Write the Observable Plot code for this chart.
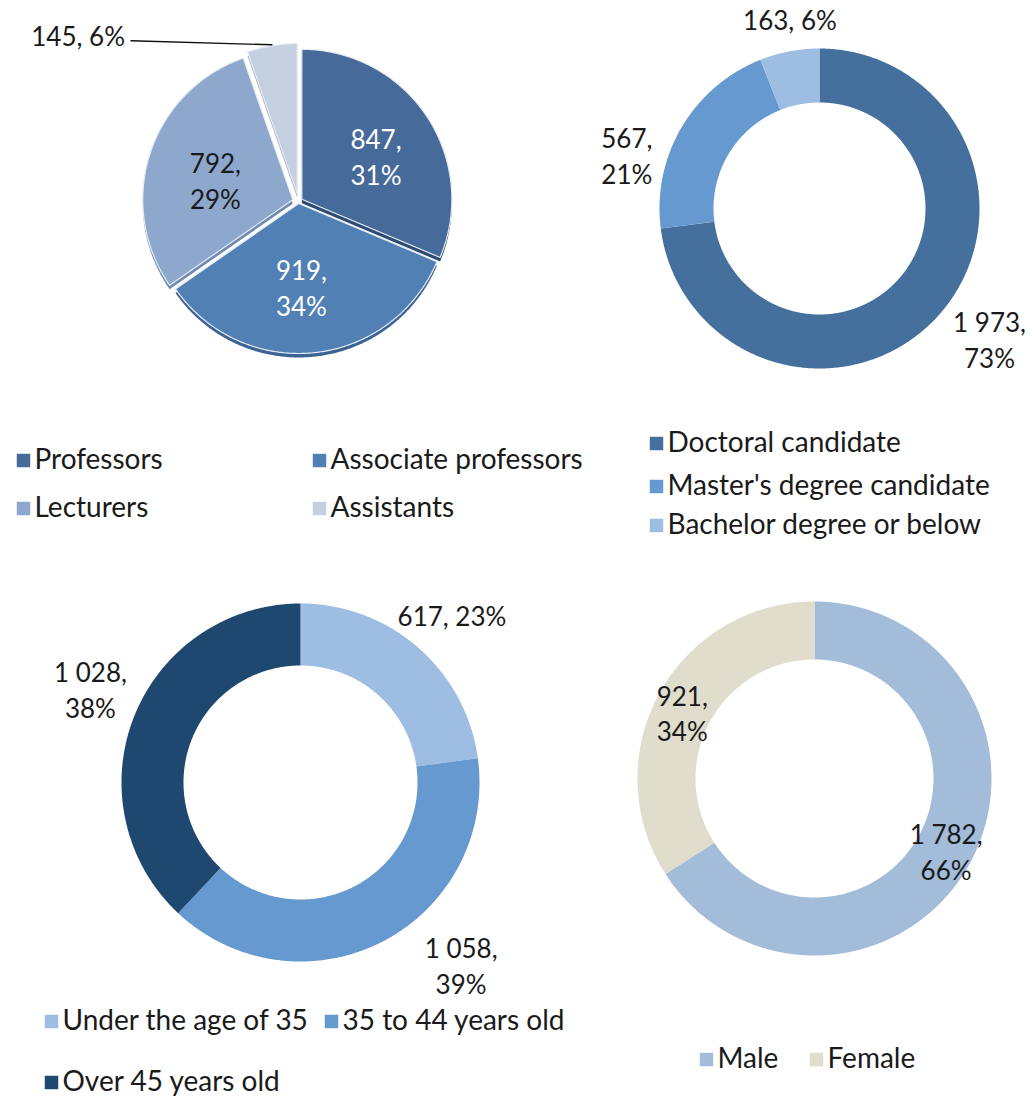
<!DOCTYPE html>
<html>
<head>
<meta charset="utf-8">
<script src="https://cdn.jsdelivr.net/npm/d3@7"></script>
<script src="https://cdn.jsdelivr.net/npm/@observablehq/plot@0.6"></script>
<style>
  html, body { margin: 0; padding: 0; background: #fff; }
  #chart { width: 1030px; height: 1098px; }
  #chart svg { font-family: Lato, "Open Sans", sans-serif; }
</style>
</head>
<body>
<div id="chart"></div>
<script>
// ---- Data ----
// Chart 1: staff by title
const staffCategories = ["Professors", "Associate professors", "Lecturers", "Assistants"];
const staffValues = [847, 919, 792, 145];
const staffPercents = [31, 34, 29, 6];
const staffColors = ["#466a99", "#5180b5", "#8da7cd", "#c4cfe0"];

// Chart 2: staff by degree
const degreeCategories = ["Doctoral candidate", "Master's degree candidate", "Bachelor degree or below"];
const degreeValues = [1973, 567, 163];
const degreePercents = [73, 21, 6];
const degreeColors = ["#45709e", "#6699cf", "#9dbde2"];

// Chart 3: staff by age
const ageCategories = ["Under the age of 35", "35 to 44 years old", "Over 45 years old"];
const ageValues = [617, 1058, 1028];
const agePercents = [23, 39, 38];
const ageColors = ["#9dbde2", "#6699cf", "#1f4870"];

// Chart 4: staff by gender
const genderCategories = ["Male", "Female"];
const genderValues = [1782, 921];
const genderPercents = [66, 34];
const genderColors = ["#a2bcd9", "#e0ddcc"];

// ---- Layout (positions and styles, not data) ----
const W = 1030, H = 1098;
const fmt = d3.formatLocale({decimal: ".", thousands: " ", grouping: [3], currency: ["", ""]}).format(",d");
const DEG = Math.PI / 180;

const charts = [
  {name: "staff", cats: staffCategories, vals: staffValues, pcts: staffPercents,
   cx: 298, cy: 201, r0: 0, r1: 150,
   explode: [4, 2, 6, 8],
   labelR: [90, 85, 86, null], labelDA: [3, 4, -3, 0],
   labelFill: ["white", "white", "#1a1a1a", "#1a1a1a"], twoLine: [true, true, true, false]},
  {name: "degree", cats: degreeCategories, vals: degreeValues, pcts: degreePercents,
   cx: 819, cy: 208, r0: 106, r1: 160,
   labelR: [214, 200, 192], labelDA: [-4, -15, 2],
   labelFill: ["#1a1a1a", "#1a1a1a", "#1a1a1a"], twoLine: [true, true, false]},
  {name: "age", cats: ageCategories, vals: ageValues, pcts: agePercents,
   cx: 300, cy: 782, r0: 117, r1: 179,
   labelR: [226, 243, 230], labelDA: [1, -14, 2.5],
   labelFill: ["#1a1a1a", "#1a1a1a", "#1a1a1a"], twoLine: [false, true, true]},
  {name: "gender", cats: genderCategories, vals: genderValues, pcts: genderPercents,
   cx: 814, cy: 778, r0: 119, r1: 177,
   labelR: [150, 148], labelDA: [0, -2],
   labelFill: ["#1a1a1a", "#1a1a1a"], twoLine: true}
];

function arcPoints(cx, cy, r0, r1, a0, a1) {
  const pts = [];
  const n = Math.max(2, Math.ceil((a1 - a0) / (0.5 * DEG)));
  for (let i = 0; i <= n; i++) {
    const a = a0 + (a1 - a0) * i / n;
    pts.push([cx + r1 * Math.sin(a), cy - r1 * Math.cos(a)]);
  }
  if (r0 > 0) {
    for (let i = n; i >= 0; i--) {
      const a = a0 + (a1 - a0) * i / n;
      pts.push([cx + r0 * Math.sin(a), cy - r0 * Math.cos(a)]);
    }
  } else {
    pts.push([cx, cy]);
  }
  return pts;
}

const slicePts = [];
const shadowPts = [];
const labels = [];
let leader = [];
for (const c of charts) {
  const arcs = d3.pie().sort(null).startAngle(0).endAngle(2 * Math.PI)(c.vals);
  arcs.forEach((a, i) => {
    const mid = (a.startAngle + a.endAngle) / 2;
    const ex = c.explode ? c.explode[i] : 0;
    const cx = c.cx + ex * Math.sin(mid), cy = c.cy - ex * Math.cos(mid);
    const key = c.name + i;
    arcPoints(cx, cy, c.r0, c.r1, a.startAngle, a.endAngle)
      .forEach(([x, y]) => slicePts.push({key, category: c.cats[i], x, y}));
    if (c.explode) {
      arcPoints(cx, cy + 4, c.r0, c.r1, a.startAngle, a.endAngle)
        .forEach(([x, y]) => shadowPts.push({key, x, y}));
    }
    const two = Array.isArray(c.twoLine) ? c.twoLine[i] : c.twoLine;
    const text = fmt(c.vals[i]) + "," + (two ? "\n" : " ") + c.pcts[i] + "%";
    if (c.labelR[i] == null) {
      // leader-line label (small slice of chart 1)
      const ox = cx + c.r1 * Math.sin(mid), oy = cy - c.r1 * Math.cos(mid);
      leader = [{x: ox, y: oy - 1}, {x: ox - 141, y: oy - 5}];
      labels.push({x: ox - 147, y: oy - 8, text, fill: c.labelFill[i], anchor: "end"});
    } else {
      const la = mid + c.labelDA[i] * DEG;
      labels.push({x: c.cx + c.labelR[i] * Math.sin(la), y: c.cy - c.labelR[i] * Math.cos(la),
                   text, fill: c.labelFill[i], anchor: "middle"});
    }
  });
}

// legends
const legendItems = [];
function legend(cats, positions) {
  cats.forEach((cat, i) => legendItems.push({category: cat, x: positions[i][0], y: positions[i][1]}));
}
legend(staffCategories, [[23, 460], [319, 460], [23, 508], [319, 508]]);
legend(degreeCategories, [[656, 443], [656, 486], [656, 525]]);
legend(ageCategories, [[51, 1021], [331, 1021], [51, 1082]]);
legend(genderCategories, [[706, 1059], [816, 1059]]);

const allCats = [...staffCategories, ...degreeCategories, ...ageCategories, ...genderCategories];
const allColors = [...staffColors, ...degreeColors, ...ageColors, ...genderColors];
const shadowColors = ["#2c4b74", "#3b6394", "#6f8bb2", "#9eadc3"];

const plot = Plot.plot({
  width: W, height: H, margin: 0,
  x: {domain: [0, W], range: [0, W], axis: null},
  y: {domain: [0, H], range: [0, H], axis: null},
  color: {domain: allCats, range: allColors},
  style: {fontFamily: "Lato, 'Open Sans', sans-serif", background: "white"},
  marks: [
    Plot.line(shadowPts, {x: "x", y: "y", z: "key", fill: d => shadowColors[+d.key.slice(-1)], stroke: "none", curve: "linear-closed"}),
    Plot.line(slicePts, {x: "x", y: "y", z: "key", fill: "category", stroke: d => d.key.startsWith("staff") ? "#e6ebf2" : "none", strokeWidth: 1.2, curve: "linear-closed"}),
    Plot.line(leader, {x: "x", y: "y", stroke: "#111", strokeWidth: 1.3}),
    Plot.text(labels.filter(d => d.anchor === "middle"), {x: "x", y: "y", text: "text", fill: "fill", fontSize: 26, lineHeight: 1.38, textAnchor: "middle"}),
    Plot.text(labels.filter(d => d.anchor === "end"), {x: "x", y: "y", text: "text", fill: "fill", fontSize: 26, textAnchor: "end"}),
    Plot.dot(legendItems, {x: "x", y: "y", fill: "category", symbol: "square", r: 7.6, stroke: "none"}),
    Plot.text(legendItems, {x: "x", y: "y", text: "category", fill: "#1a1a1a", fontSize: 28, textAnchor: "start", dx: 11})
  ]
});
document.getElementById("chart").appendChild(plot);
</script>
</body>
</html>
